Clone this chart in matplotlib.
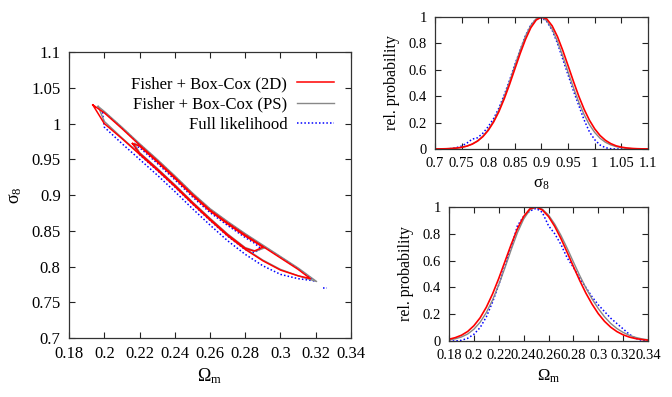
import numpy as np
import matplotlib
matplotlib.use('Agg')
import matplotlib.pyplot as plt
import matplotlib.ticker as ticker

plt.rcParams['font.family'] = ['Liberation Serif', 'DejaVu Serif']
plt.rcParams['mathtext.fontset'] = 'custom'
plt.rcParams['mathtext.rm'] = 'Liberation Serif'

# --- 2D contours (Omega_m, sigma_8), each closed outline: upper edge then lower edge
# Fisher + Box-Cox (2D), outer / inner
red_out_x = [0.1935, 0.20, 0.21, 0.22, 0.23, 0.24, 0.25, 0.26, 0.27, 0.28, 0.29, 0.30, 0.31, 0.317,
             0.31, 0.30, 0.29, 0.28, 0.27, 0.26, 0.25, 0.24, 0.23, 0.22, 0.21, 0.20, 0.1935]
red_out_y = [1.026, 1.015, 0.993, 0.970, 0.948, 0.925, 0.901, 0.879, 0.861, 0.844, 0.828, 0.812, 0.796, 0.783,
             0.787, 0.795, 0.808, 0.824, 0.843, 0.865, 0.888, 0.912, 0.935, 0.957, 0.979, 1.000, 1.026]
red_in_x = [0.216, 0.22, 0.23, 0.24, 0.25, 0.26, 0.27, 0.28, 0.285, 0.290,
            0.285, 0.28, 0.27, 0.26, 0.25, 0.24, 0.23, 0.22, 0.216]
red_in_y = [0.972, 0.9685, 0.9465, 0.9235, 0.8995, 0.8775, 0.8595, 0.8425, 0.835, 0.827,
            0.8215, 0.8255, 0.8445, 0.8665, 0.8895, 0.9135, 0.9365, 0.9585, 0.972]
# Fisher + Box-Cox (PS)
gray_out_x = [0.1965, 0.20, 0.21, 0.22, 0.23, 0.24, 0.25, 0.26, 0.27, 0.28, 0.29, 0.30, 0.31, 0.3205,
              0.31, 0.30, 0.29, 0.28, 0.27, 0.26, 0.25, 0.24, 0.23, 0.22, 0.21, 0.20, 0.1965]
gray_out_y = [1.024, 1.017, 0.995, 0.972, 0.950, 0.927, 0.903, 0.881, 0.863, 0.846, 0.830, 0.814, 0.798, 0.779,
              0.787, 0.796, 0.809, 0.825, 0.844, 0.866, 0.889, 0.913, 0.936, 0.958, 0.980, 1.003, 1.024]
gray_in_x = [0.217, 0.22, 0.23, 0.24, 0.25, 0.26, 0.27, 0.28, 0.286, 0.291,
             0.286, 0.28, 0.27, 0.26, 0.25, 0.24, 0.23, 0.22, 0.217]
gray_in_y = [0.972, 0.9695, 0.9475, 0.9245, 0.9005, 0.8785, 0.8605, 0.8435, 0.834, 0.826,
             0.8215, 0.8265, 0.8455, 0.8675, 0.8905, 0.9145, 0.9375, 0.9595, 0.972]
# Full likelihood
blue_out_x = [0.199, 0.20, 0.21, 0.22, 0.23, 0.24, 0.25, 0.26, 0.27, 0.28, 0.29, 0.30, 0.31, 0.319,
              0.31, 0.30, 0.29, 0.28, 0.27, 0.26, 0.25, 0.24, 0.23, 0.22, 0.21, 0.20, 0.199]
blue_out_y = [1.016, 1.016, 0.994, 0.971, 0.949, 0.926, 0.902, 0.880, 0.862, 0.845, 0.829, 0.813, 0.797, 0.780,
              0.783, 0.789, 0.801, 0.817, 0.836, 0.858, 0.881, 0.905, 0.928, 0.950, 0.972, 0.995, 1.016]
blue_in_x = [0.217, 0.22, 0.23, 0.24, 0.25, 0.26, 0.27, 0.28, 0.285, 0.289,
             0.285, 0.28, 0.27, 0.26, 0.25, 0.24, 0.23, 0.22, 0.217]
blue_in_y = [0.969, 0.9665, 0.9445, 0.9215, 0.8975, 0.8755, 0.8575, 0.8405, 0.833, 0.825,
             0.8195, 0.8235, 0.8425, 0.8645, 0.8875, 0.9115, 0.9345, 0.9565, 0.969]
blue_stray_x = [0.324, 0.3265]
blue_stray_y = [0.7705, 0.7705]

# --- 1D marginal of sigma_8
s8 = np.round(np.arange(0.70, 1.1001, 0.01), 2)
s8_red = [0.0004, 0.0009, 0.0018, 0.0036, 0.0069, 0.0125, 0.022, 0.037, 0.060, 0.094,
          0.141, 0.204, 0.283, 0.380, 0.489, 0.607, 0.724, 0.831, 0.919, 0.977,
          1.000, 0.985, 0.933, 0.851, 0.746, 0.630, 0.512, 0.400, 0.301, 0.218,
          0.152, 0.102, 0.066, 0.041, 0.024, 0.014, 0.0078, 0.0041, 0.0021, 0.001, 0.0005]
s8_gray = [0.0004, 0.0009, 0.0018, 0.0035, 0.0068, 0.0125, 0.022, 0.038, 0.062, 0.097,
           0.147, 0.212, 0.296, 0.397, 0.510, 0.631, 0.749, 0.855, 0.937, 0.987,
           0.999, 0.972, 0.908, 0.815, 0.703, 0.582, 0.464, 0.355, 0.261, 0.184,
           0.125, 0.081, 0.051, 0.031, 0.018, 0.0099, 0.0053, 0.0027, 0.0013, 0.0006, 0.0003]
s8_blue = [0.0, 0.0, 0.0, 0.003, 0.010, 0.022, 0.045, 0.075, 0.085, 0.12,
           0.17, 0.23, 0.31, 0.41, 0.52, 0.64, 0.75, 0.86, 0.94, 0.985,
           0.995, 0.965, 0.90, 0.80, 0.68, 0.56, 0.44, 0.33, 0.22, 0.13,
           0.07, 0.03, 0.01, 0.002, 0.0, 0.0, 0.0, 0.0, 0.0, 0.0, 0.0]

# --- 1D marginal of Omega_m
om = np.round(np.arange(0.180, 0.3401, 0.005), 3)
om_red = [0.013, 0.025, 0.043, 0.071, 0.114, 0.173, 0.252, 0.351, 0.467, 0.594,
          0.721, 0.837, 0.929, 0.986, 1.000, 0.978, 0.929, 0.855, 0.764, 0.662,
          0.556, 0.453, 0.358, 0.275, 0.204, 0.147, 0.103, 0.070, 0.046, 0.029,
          0.018, 0.011, 0.006]
om_gray = [0.008, 0.016, 0.030, 0.052, 0.088, 0.140, 0.212, 0.306, 0.420, 0.548,
           0.682, 0.808, 0.910, 0.978, 1.000, 0.984, 0.940, 0.872, 0.788, 0.692,
           0.590, 0.490, 0.397, 0.314, 0.242, 0.181, 0.131, 0.093, 0.064, 0.042,
           0.027, 0.016, 0.009]
om_blue = [0.0, 0.0, 0.005, 0.02, 0.05, 0.10, 0.18, 0.29, 0.42, 0.56,
           0.70, 0.86, 0.93, 0.97, 0.99, 0.96, 0.86, 0.80, 0.72, 0.62,
           0.55, 0.47, 0.40, 0.33, 0.27, 0.22, 0.17, 0.13, 0.09, 0.05,
           0.02, 0.005, 0.0]

labels = ['Fisher + Box-Cox (2D)', 'Fisher + Box-Cox (PS)', 'Full likelihood']
c_red, c_gray, c_blue = '#ff0000', '#888888', '#0000ff'
dots = (0, (1, 1.4))

fig = plt.figure(figsize=(6.72, 3.97), dpi=100)
ax = fig.add_axes([0.1027, 0.1486, 0.4196, 0.7204])
ax1 = fig.add_axes([0.6473, 0.6247, 0.317, 0.3325])
ax2 = fig.add_axes([0.6682, 0.1411, 0.2961, 0.3375])

fmt = ticker.FuncFormatter(lambda v, p: '%g' % round(v, 4))


def style(a, fs):
    a.tick_params(direction='in', top=True, right=True, length=4, width=0.8,
                  labelsize=fs, pad=6, color='#222222')
    for s in a.spines.values():
        s.set_color('#333333')
        s.set_linewidth(0.9)
    a.xaxis.set_major_formatter(fmt)
    a.yaxis.set_major_formatter(fmt)


# left panel: contours
ax.plot(blue_out_x, blue_out_y, linestyle=dots, color=c_blue, lw=1.1, label=labels[2])
ax.plot(blue_in_x, blue_in_y, linestyle=dots, color=c_blue, lw=1.1)
ax.plot(blue_stray_x, blue_stray_y, linestyle=dots, color=c_blue, lw=1.1)
ax.plot(gray_out_x, gray_out_y, '-', color=c_gray, lw=1.0, label=labels[1])
ax.plot(gray_in_x, gray_in_y, '-', color=c_gray, lw=1.0)
ax.plot(red_out_x, red_out_y, '-', color=c_red, lw=1.1, label=labels[0])
ax.plot(red_in_x, red_in_y, '-', color=c_red, lw=1.1)
ax.set_xlim(0.18, 0.34)
ax.set_ylim(0.7, 1.1)
ax.set_xticks(np.arange(0.18, 0.3401, 0.02))
ax.set_yticks(np.arange(0.7, 1.1001, 0.05))
style(ax, 12)
ax.set_xlabel(r'$\mathregular{\Omega_m}$', fontsize=13, labelpad=3)
ax.set_ylabel(r'$\mathregular{\sigma_8}$', fontsize=13, labelpad=5)
h, l = ax.get_legend_handles_labels()
ax.legend(h[::-1], l[::-1], loc='upper right', frameon=False, markerfirst=False,
          fontsize=12, handlelength=2.2, handletextpad=0.6, labelspacing=0.25,
          bbox_to_anchor=(0.975, 0.95), borderaxespad=0.2)

# top right: sigma_8
ax1.plot(s8, s8_blue, linestyle=dots, color=c_blue, lw=1.1)
ax1.plot(s8, s8_gray, '-', color=c_gray, lw=1.0)
ax1.plot(s8, s8_red, '-', color=c_red, lw=1.2)
ax1.set_xlim(0.7, 1.1)
ax1.set_ylim(0, 1)
ax1.set_xticks(np.arange(0.7, 1.1001, 0.05))
ax1.set_yticks(np.arange(0, 1.001, 0.2))
style(ax1, 10.5)
ax1.set_xlabel(r'$\mathregular{\sigma_8}$', fontsize=12, labelpad=4)
ax1.set_ylabel('rel. probability', fontsize=11.5, labelpad=6)

# bottom right: Omega_m
ax2.plot(om, om_blue, linestyle=dots, color=c_blue, lw=1.1)
ax2.plot(om, om_gray, '-', color=c_gray, lw=1.0)
ax2.plot(om, om_red, '-', color=c_red, lw=1.2)
ax2.set_xlim(0.18, 0.34)
ax2.set_ylim(0, 1)
ax2.set_xticks(np.arange(0.18, 0.3401, 0.02))
ax2.set_yticks(np.arange(0, 1.001, 0.2))
style(ax2, 10.5)
ax2.set_xlabel(r'$\mathregular{\Omega_m}$', fontsize=12, labelpad=4)
ax2.set_ylabel('rel. probability', fontsize=11.5, labelpad=6)

plt.savefig('out.png', dpi=100)
